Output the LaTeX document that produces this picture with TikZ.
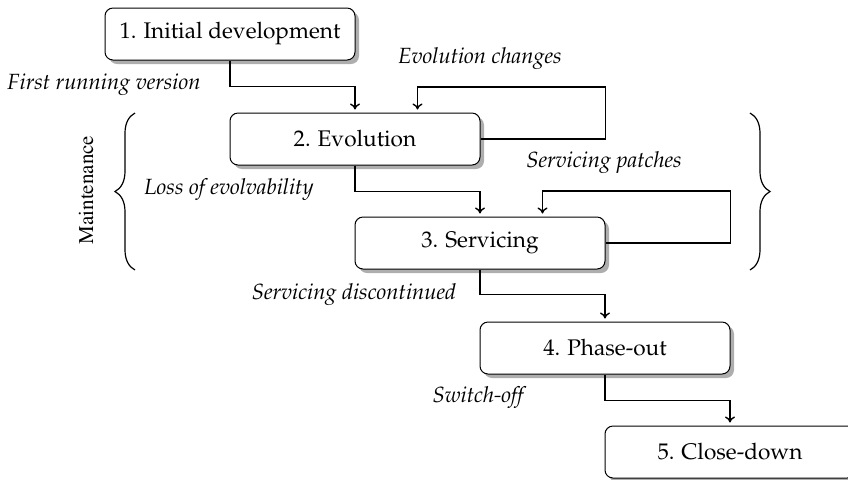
\documentclass[tikz,border=0pt]{standalone}
\usepackage[T1]{fontenc}
\usepackage{mathpazo}
\usetikzlibrary{shadows,decorations.pathreplacing,arrows.meta}
\tikzset{
  phase/.style={draw, line width=0.5pt, rounded corners=4pt, fill=white,
    minimum width=125pt, minimum height=26pt, inner sep=0pt,
    font=\fontsize{11.3}{13}\selectfont,
    drop shadow={shadow xshift=2pt, shadow yshift=-2pt, opacity=0.45, fill=black!70}},
  conn/.style={line width=0.7pt, -{To[length=3pt,width=5pt]}, shorten >=1.5pt},
  lbl/.style={font=\fontsize{11}{13}\selectfont\itshape, inner sep=0pt},
  brace/.style={line width=0.6pt, decorate, decoration={brace, amplitude=10pt}}
}
\begin{document}
\begin{tikzpicture}[x=0.5pt,y=-0.5pt]
\useasboundingbox (0,0) rectangle (848,479);
\node[phase] (b1) at (230,34) {1. Initial development};
\node[phase] (b2) at (355,139) {2. Evolution};
\node[phase] (b3) at (480,243) {3. Servicing};
\node[phase] (b4) at (605,348) {4. Phase-out};
\node[phase] (b5) at (730,452) {5. Close-down};

\draw[conn] (b1.south) -- ++(0,26) -| (b2.north);
\draw[conn] (b2.east) -- ++(125,0) -- ++(0,-52) -| ([xshift=31.25pt]b2.north);
\draw[conn] (b2.south) -- ++(0,26) -| (b3.north);
\draw[conn] (b3.east) -- ++(125,0) -- ++(0,-52) -| ([xshift=31.25pt]b3.north);
\draw[conn] (b3.south) -- ++(0,25) -| (b4.north);
\draw[conn] (b4.south) -- ++(0,26) -| (b5.north);

\node[lbl] (l1) at (104,85) {First running version};
\node[lbl] (l2) at (480,59) {Evolution changes};
\node[lbl] (l3) at (229,190) {Loss of evolvability};
\node[lbl] (l4) at (604,163) {Servicing patches};
\node[lbl] (l5) at (354,295) {Servicing discontinued};
\node[lbl] (l6) at (478,398) {Switch-off};

\coordinate (lbt) at (135,113);
\coordinate (lbb) at (135,270);
\coordinate (rbt) at (750,113);
\coordinate (rbb) at (750,270);
\draw[brace] (lbb) -- (lbt);
\draw[brace] (rbt) -- (rbb);
\node[rotate=90, font=\fontfamily{ptm}\fontsize{10.5}{12}\selectfont, inner sep=0pt] (mt) at (86,190) {Maintenance};
\end{tikzpicture}
\end{document}
